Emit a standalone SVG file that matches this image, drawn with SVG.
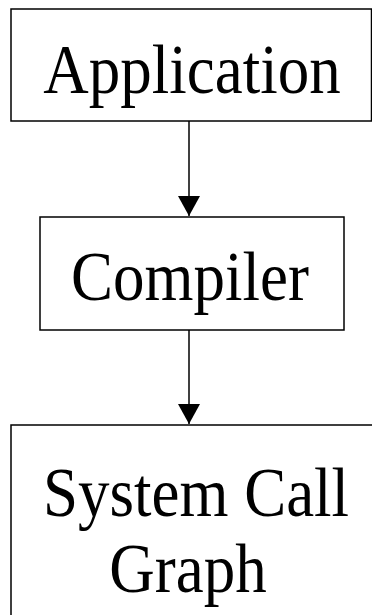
<svg xmlns="http://www.w3.org/2000/svg" width="372" height="615" viewBox="0 0 372 615">
<style>
.box{fill:#fff;stroke:#000;stroke-width:1.5}
.lbl{font-family:"Liberation Serif","Times New Roman",serif;font-size:63px;fill:#000;text-anchor:middle}
.edge{stroke:#000;stroke-width:1.5;fill:none}
</style>
<defs>
<marker id="ah" markerUnits="userSpaceOnUse" markerWidth="22" markerHeight="22" refX="20" refY="11" orient="auto">
<path d="M0,0 L20,11 L0,22 Z" fill="#000"/>
</marker>
</defs>
<rect width="372" height="615" fill="#fff"/>
<g id="application">
<rect class="box" x="11" y="9" width="360.5" height="112"/>
<text class="lbl" transform="translate(192,93) scale(1,1.12)">Application</text>
</g>
<g id="compiler">
<rect class="box" x="40" y="217" width="304" height="113"/>
<text class="lbl" transform="translate(190,300) scale(1,1.12)">Compiler</text>
</g>
<g id="syscallgraph">
<rect class="box" x="11" y="425" width="370" height="200"/>
<text class="lbl" transform="translate(196,516) scale(1,1.12)">System Call</text>
<text class="lbl" transform="translate(188,592) scale(1,1.12)">Graph</text>
</g>
<g id="connectors">
<line class="edge" x1="189" y1="121" x2="189" y2="216" marker-end="url(#ah)"/>
<line class="edge" x1="189" y1="330" x2="189" y2="424" marker-end="url(#ah)"/>
</g>
</svg>
